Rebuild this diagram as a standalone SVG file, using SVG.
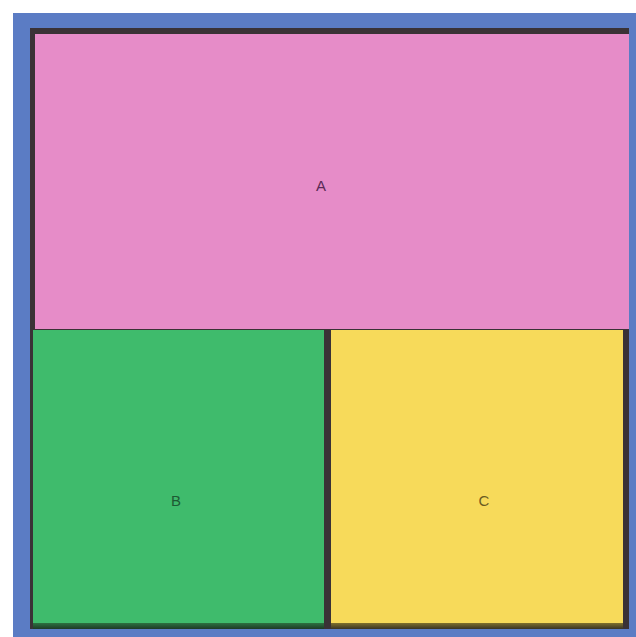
<svg xmlns="http://www.w3.org/2000/svg" width="636" height="637" viewBox="0 0 636 637">
<style>
.lbl{font-family:"Liberation Sans",Arial,sans-serif;font-size:15px;text-anchor:middle;dominant-baseline:central}
</style>
<defs>
<linearGradient id="gshade" x1="0" y1="0" x2="0" y2="1">
<stop offset="0" stop-color="#2f7a45"/>
<stop offset="1" stop-color="#1d3a26"/>
</linearGradient>
<linearGradient id="yshade" x1="0" y1="0" x2="0" y2="1">
<stop offset="0" stop-color="#8a7a30"/>
<stop offset="1" stop-color="#3a3424"/>
</linearGradient>
</defs>
<rect x="0" y="0" width="636" height="637" fill="#ffffff"/>
<rect x="13" y="13" width="623" height="624" fill="#5b7cc4"/>
<rect x="30" y="28" width="599" height="601" fill="#3a3236"/>
<g id="A">
<rect x="35" y="34" width="594" height="295" fill="#e68cc8"/>
<text class="lbl" x="321" y="185" fill="#5a2a55">A</text>
</g>
<g id="B">
<rect x="33" y="622" width="291" height="7" fill="url(#gshade)"/>
<rect x="33" y="330" width="291" height="293" fill="#3fbb6c"/>
<text class="lbl" x="176" y="500" fill="#1d5a34">B</text>
</g>
<g id="C">
<rect x="331" y="622" width="292" height="7" fill="url(#yshade)"/>
<rect x="331" y="330" width="292" height="293" fill="#f7da5a"/>
<text class="lbl" x="484" y="500" fill="#6b5a22">C</text>
</g>
<g id="connectors"></g>
</svg>
